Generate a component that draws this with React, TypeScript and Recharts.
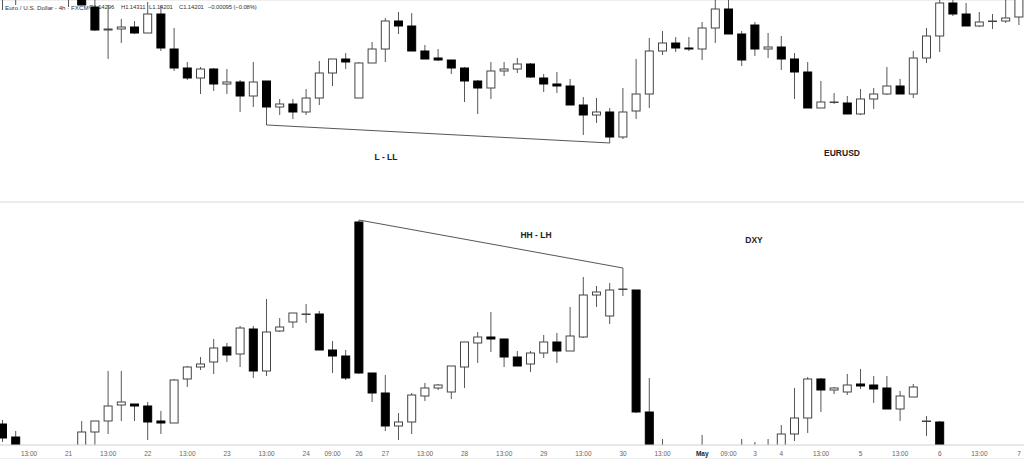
import { ComposedChart, Bar, XAxis, YAxis, ReferenceLine } from "recharts";

// EURUSD 4h candles (slot 0..77)
const eurOpen = [
  1.162, 1.161, 1.162, 1.163, 1.1615, 1.1625, 1.161, 1.1593, 1.157, 1.1571,
  1.1573, 1.1567, 1.1586, 1.1551, 1.1532, 1.1522, 1.1531, 1.1516, 1.1518, 1.1504,
  1.1519, 1.1493, 1.1496, 1.1488, 1.1502, 1.1527, 1.1541, 1.1502, 1.1537, 1.1551,
  1.1579, 1.1574, 1.1549, 1.1542, 1.154, 1.1532, 1.1519, 1.1512, 1.1529, 1.1531,
  1.1536, 1.1522, 1.1516, 1.1514, 1.1495, 1.1485, 1.1488, 1.1463, 1.1489, 1.1506,
  1.1549, 1.1557, 1.1552, 1.1551, 1.1572, 1.1591, 1.1566, 1.1575, 1.1551, 1.1553,
  1.1541, 1.1528, 1.1492, 1.1498, 1.1497, 1.1486, 1.1501, 1.1506, 1.1514, 1.1506,
  1.1542, 1.1564, 1.1597, 1.1586, 1.1574, 1.1579, 1.1579, 1.1583,
];
const eurHigh = [
  1.163, 1.1635, 1.164, 1.164, 1.1635, 1.1635, 1.1615, 1.1605, 1.1595, 1.1581,
  1.1579, 1.1598, 1.1595, 1.1572, 1.1538, 1.1533, 1.1532, 1.1531, 1.152, 1.1538,
  1.1519, 1.1501, 1.1501, 1.1511, 1.1539, 1.1541, 1.1547, 1.1538, 1.1558, 1.1582,
  1.1588, 1.1587, 1.1555, 1.1551, 1.154, 1.1533, 1.152, 1.1538, 1.1538, 1.1542,
  1.1537, 1.1526, 1.1528, 1.1521, 1.1503, 1.1502, 1.1492, 1.1512, 1.1541, 1.1562,
  1.1569, 1.1563, 1.1563, 1.1578, 1.1603, 1.1603, 1.1569, 1.1578, 1.1567, 1.1564,
  1.1547, 1.1538, 1.1519, 1.1507, 1.1504, 1.1511, 1.1512, 1.1533, 1.1521, 1.1549,
  1.1572, 1.1605, 1.1605, 1.1597, 1.1588, 1.1586, 1.1603, 1.161,
];
const eurLow = [
  1.159, 1.1595, 1.1608, 1.1605, 1.1603, 1.1593, 1.1595, 1.1569, 1.1541, 1.1557,
  1.1566, 1.1567, 1.1549, 1.1529, 1.152, 1.1506, 1.1509, 1.1506, 1.1488, 1.1493,
  1.1475, 1.1485, 1.1481, 1.1485, 1.1495, 1.1514, 1.1531, 1.1502, 1.1537, 1.1538,
  1.1566, 1.1549, 1.1541, 1.1539, 1.1526, 1.1498, 1.1486, 1.1501, 1.1524, 1.1527,
  1.1522, 1.1508, 1.1507, 1.1495, 1.1465, 1.1477, 1.1457, 1.1461, 1.1481, 1.1492,
  1.1545, 1.1548, 1.1549, 1.154, 1.1557, 1.1566, 1.1534, 1.1544, 1.1542, 1.153,
  1.1501, 1.1492, 1.1492, 1.1496, 1.1486, 1.1485, 1.1491, 1.1505, 1.1506, 1.1502,
  1.1537, 1.1548, 1.1584, 1.1574, 1.1573, 1.1571, 1.1577, 1.1575,
];
const eurClose = [
  1.1605, 1.1625, 1.163, 1.1615, 1.1625, 1.161, 1.1595, 1.157, 1.1571, 1.1573,
  1.1567, 1.1586, 1.1552, 1.1532, 1.1522, 1.1531, 1.1516, 1.1518, 1.1504, 1.1518,
  1.1493, 1.1496, 1.1488, 1.1502, 1.1527, 1.1541, 1.1538, 1.1537, 1.1551, 1.1579,
  1.1574, 1.1549, 1.1541, 1.154, 1.1532, 1.1519, 1.1512, 1.1529, 1.1531, 1.1536,
  1.1523, 1.1516, 1.1514, 1.1495, 1.1485, 1.1488, 1.1463, 1.1488, 1.1506, 1.1549,
  1.1557, 1.1552, 1.1551, 1.1572, 1.1591, 1.1566, 1.154, 1.1551, 1.1553, 1.1541,
  1.1528, 1.1492, 1.1498, 1.1498, 1.1486, 1.1501, 1.1506, 1.1514, 1.1506, 1.1542,
  1.1564, 1.1597, 1.1586, 1.1574, 1.1578, 1.1579, 1.1582, 1.1605,
];

// DXY 4h candles (same slots)
const dxyOpen = [
  98.76, 98.63, 98.45, 98.38, 98.3, 98.4, 98.48, 98.68, 98.79, 98.95,
  98.96, 98.94, 98.79, 98.77, 99.21, 99.33, 99.38, 99.53, 99.46, 99.71,
  99.29, 99.69, 99.78, 99.86, 99.86, 99.5, 99.44, 100.78, 99.27, 99.07,
  98.74, 98.78, 99.04, 99.12, 99.08, 99.33, 99.57, 99.63, 99.61, 99.43,
  99.36, 99.47, 99.58, 99.49, 99.63, 100.05, 99.84, 100.11, 100.1, 98.88,
  98.48, 98.38, 98.3, 98.35, 98.42, 98.38, 98.45, 98.48, 98.45, 98.48,
  98.66, 98.82, 99.21, 99.1, 99.08, 99.16, 99.15, 99.12, 98.91, 99.03,
  98.79, 98.78, 98.45, 98.38, 98.42, 98.35, 98.4, 98.34,
];
const dxyHigh = [
  98.8, 98.69, 98.5, 98.44, 98.48, 98.51, 98.79, 98.79, 99.29, 99.29,
  98.96, 98.98, 98.89, 99.21, 99.34, 99.43, 99.61, 99.57, 99.74, 99.74,
  100.01, 99.82, 99.87, 99.96, 99.89, 99.59, 99.5, 100.8, 99.27, 99.25,
  98.87, 99.07, 99.17, 99.16, 99.34, 99.58, 99.68, 99.88, 99.61, 99.49,
  99.49, 99.65, 99.67, 99.93, 100.23, 100.14, 100.17, 100.32, 100.1, 99.22,
  98.61, 98.45, 98.42, 98.65, 98.5, 98.51, 98.61, 98.58, 98.61, 98.75,
  99.12, 99.23, 99.22, 99.13, 99.26, 99.31, 99.24, 99.24, 99.09, 99.16,
  98.84, 98.79, 98.5, 98.48, 98.5, 98.45, 98.46, 98.44,
];
const dxyLow = [
  98.58, 98.45, 98.32, 98.24, 98.25, 98.34, 98.42, 98.52, 98.66, 98.79,
  98.79, 98.6, 98.66, 98.77, 99.13, 99.3, 99.26, 99.38, 99.33, 99.22,
  99.24, 99.68, 99.72, 99.77, 99.5, 99.27, 99.2, 99.26, 98.98, 98.69,
  98.6, 98.66, 98.99, 99.1, 99.01, 99.12, 99.37, 99.48, 99.33, 99.34,
  99.28, 99.42, 99.37, 99.49, 99.62, 99.93, 99.76, 100.04, 98.87, 98.4,
  98.3, 98.22, 98.2, 98.28, 98.3, 98.32, 98.38, 98.37, 98.4, 98.44,
  98.59, 98.67, 98.88, 99.06, 99.05, 99.11, 98.97, 98.91, 98.79, 99.03,
  98.64, 98.4, 98.3, 98.32, 98.28, 98.3, 98.26, 98.28,
];
const dxyClose = [
  98.62, 98.5, 98.38, 98.3, 98.4, 98.45, 98.68, 98.79, 98.94, 98.98,
  98.94, 98.78, 98.77, 99.2, 99.33, 99.36, 99.52, 99.45, 99.72, 99.29,
  99.68, 99.73, 99.87, 99.86, 99.5, 99.44, 99.22, 99.27, 99.07, 98.74,
  98.78, 99.05, 99.12, 99.15, 99.34, 99.58, 99.63, 99.61, 99.43, 99.34,
  99.47, 99.58, 99.49, 99.64, 100.05, 100.08, 100.1, 100.11, 98.88, 98.48,
  98.38, 98.3, 98.35, 98.42, 98.38, 98.45, 98.48, 98.45, 98.5, 98.66,
  98.82, 99.21, 99.1, 99.12, 99.15, 99.14, 99.11, 98.91, 99.04, 99.13,
  98.79, 98.45, 98.38, 98.42, 98.35, 98.4, 98.34, 98.38,
];

const tickSlots = [2, 5, 8, 11, 14, 17, 20, 23, 25, 27, 29, 32, 35, 38, 41, 44, 47, 50, 53, 55, 57, 59, 62, 65, 68, 71, 74, 77];
const tickLabels = [
  "13:00", "21", "13:00", "22", "13:00", "23", "13:00", "24", "09:00", "26", "27", "13:00", "28", "13:00",
  "29", "13:00", "30", "13:00", "May", "09:00", "3", "4", "13:00", "5", "13:00", "6", "13:00", "7",
];

const eurRows = eurOpen.map((o, i) => ({
  i, o, h: eurHigh[i], l: eurLow[i], c: eurClose[i], range: [eurLow[i], eurHigh[i]],
}));
const dxyRows = dxyOpen.map((o, i) => ({
  i, o, h: dxyHigh[i], l: dxyLow[i], c: dxyClose[i], range: [dxyLow[i], dxyHigh[i]],
}));

const CHART_W = 1029.6; // 78 slots * 13.2px
const SHIFT = -3.6;

function Candle(props: any) {
  const { x, y, width, height, payload } = props;
  if (x == null || y == null) return null;
  const { o, h, l, c } = payload;
  const top = Math.min(y, y + height);
  const span = Math.abs(height);
  const pix = (v: number) => (h === l ? top : top + ((h - v) / (h - l)) * span);
  const cx = x + width / 2;
  const up = c >= o;
  const bTop = pix(Math.max(o, c));
  const bBot = pix(Math.min(o, c));
  return (
    <g>
      <line x1={cx} x2={cx} y1={top} y2={top + span} stroke="#555" strokeWidth={1} />
      <rect
        x={x + 0.5}
        y={bTop}
        width={width - 1}
        height={Math.max(bBot - bTop, 0.5)}
        fill={up ? "#fff" : "#000"}
        stroke={up ? "#444" : "#000"}
        strokeWidth={1}
      />
    </g>
  );
}

function DateTick(props: any) {
  const { x, y, payload } = props;
  const label = tickLabels[tickSlots.indexOf(payload.value)];
  const bold = label === "May";
  return (
    <text
      x={x}
      y={y + 11}
      textAnchor="middle"
      fontSize={6.5}
      fontFamily="'Liberation Sans', Arial, sans-serif"
      fontWeight={bold ? 700 : 400}
      fill={bold ? "#222" : "#666"}
    >
      {label}
    </text>
  );
}

const labelStyle = {
  position: "absolute" as const,
  transform: "translate(-50%, -50%)",
  fontFamily: "'Liberation Sans', Arial, sans-serif",
  fontWeight: 700,
  fontSize: 8.5,
  color: "#222",
  whiteSpace: "nowrap" as const,
};

const headStyle = {
  position: "absolute" as const,
  top: 4,
  fontFamily: "'Liberation Sans', Arial, sans-serif",
  fontSize: 6.2,
  color: "#333",
  whiteSpace: "nowrap" as const,
};
const valStyle = { ...headStyle, fontSize: 5.9, letterSpacing: -0.1 };

export default function App() {
  return (
    <div
      style={{
        position: "relative",
        width: 1024,
        height: 460,
        overflow: "hidden",
        background: "#fff",
      }}
    >
      <style>{`body{margin:0}`}</style>

      {/* header line, behind candles */}
      <div style={{ ...headStyle, left: 5 }}>Euro / U.S. Dollar - 4h · FXCM</div>
      <div style={{ ...valStyle, left: 89 }}>O1.14296</div>
      <div style={{ ...valStyle, left: 121 }}>H1.14311</div>
      <div style={{ ...valStyle, left: 149 }}>L1.14201</div>
      <div style={{ ...valStyle, left: 179 }}>C1.14201</div>
      <div style={{ ...valStyle, left: 208 }}>−0.00095 (−0.08%)</div>

      <div style={{ position: "absolute", left: 0, top: 0, width: 1024, height: 1, background: "#eee" }} />

      {/* EURUSD pane */}
      <div style={{ position: "absolute", left: SHIFT, top: 0 }}>
        <ComposedChart width={CHART_W} height={202} data={eurRows} margin={{ top: 0, right: 0, bottom: 0, left: 0 }}>
          <XAxis dataKey="i" hide />
          <YAxis hide domain={[1.1398, 1.16]} allowDataOverflow />
          <ReferenceLine
            segment={[{ x: 20, y: eurLow[20] }, { x: 46, y: eurLow[46] }]}
            stroke="#555"
            strokeWidth={1}
          />
          <Bar dataKey="range" barSize={9} shape={<Candle />} isAnimationActive={false} />
        </ComposedChart>
      </div>

      <div style={{ position: "absolute", left: 0, top: 201, width: 1024, height: 2, background: "#ececec" }} />

      {/* DXY pane */}
      <div style={{ position: "absolute", left: SHIFT, top: 202 }}>
        <ComposedChart width={CHART_W} height={258} data={dxyRows} margin={{ top: 3, right: 0, bottom: 0, left: 0 }}>
          <XAxis
            dataKey="i"
            height={15}
            ticks={tickSlots}
            interval={0}
            tickSize={0}
            tickMargin={0}
            tickLine={false}
            axisLine={{ stroke: "#cfcfcf" }}
            tick={<DateTick />}
          />
          <YAxis hide domain={[98.55, 100.95]} allowDataOverflow />
          <ReferenceLine
            segment={[{ x: 27, y: dxyHigh[27] }, { x: 47, y: dxyHigh[47] }]}
            stroke="#555"
            strokeWidth={1}
          />
          <Bar dataKey="range" barSize={9} shape={<Candle />} isAnimationActive={false} />
        </ComposedChart>
      </div>

      <div style={{ position: "absolute", left: 0, top: 458, width: 1024, height: 1, background: "#eee" }} />

      <div style={{ ...labelStyle, left: 386, top: 157 }}>L - LL</div>
      <div style={{ ...labelStyle, left: 842, top: 153 }}>EURUSD</div>
      <div style={{ ...labelStyle, left: 536, top: 235 }}>HH - LH</div>
      <div style={{ ...labelStyle, left: 754, top: 240 }}>DXY</div>
    </div>
  );
}
